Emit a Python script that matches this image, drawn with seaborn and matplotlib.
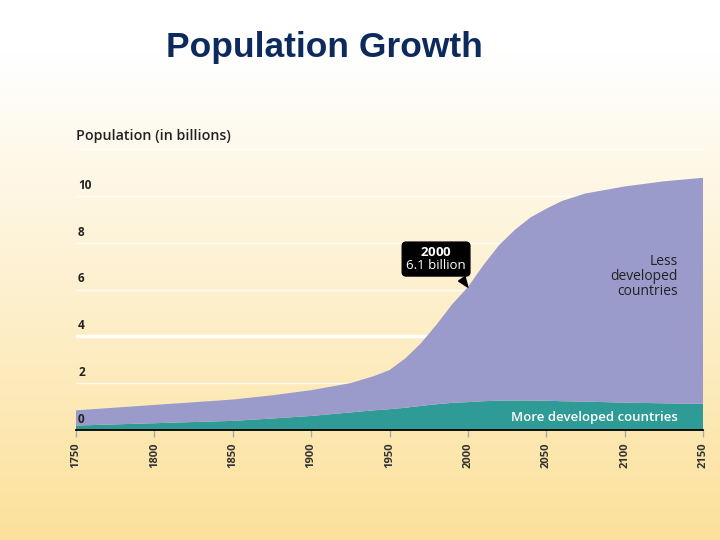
import numpy as np
import matplotlib
matplotlib.use("Agg")
import matplotlib.pyplot as plt
import seaborn as sns

# data (billions)
years = [1750, 1800, 1850, 1875, 1900, 1925, 1940, 1950, 1960, 1970, 1980,
         1990, 2000, 2010, 2020, 2030, 2040, 2050, 2060, 2075, 2100, 2125, 2150]
more_developed = [0.19, 0.29, 0.39, 0.49, 0.60, 0.75, 0.84, 0.89, 0.95, 1.03, 1.10,
                  1.16, 1.19, 1.23, 1.25, 1.26, 1.26, 1.25, 1.23, 1.21, 1.17, 1.14, 1.12]
less_developed = [0.65, 0.78, 0.91, 0.99, 1.10, 1.25, 1.46, 1.67, 2.10, 2.67, 3.40,
                  4.21, 4.91, 5.82, 6.65, 7.29, 7.82, 8.20, 8.55, 8.89, 9.23, 9.48, 9.65]
x_ticks = [1750, 1800, 1850, 1900, 1950, 2000, 2050, 2100, 2150]
y_ticks = [0, 2, 4, 6, 8, 10]
grid_levels = [2, 4, 6, 8, 10, 12]

sns.set_theme(style="white")
plt.rcParams['font.family'] = ['Open Sans', 'DejaVu Sans']
plt.rcParams['mathtext.fontset'] = 'custom'
plt.rcParams['mathtext.bf'] = 'Open Sans:bold'
plt.rcParams['mathtext.rm'] = 'Open Sans'

colors = sns.color_palette(["#2f9b96", "#9a9acb"])

fig = plt.figure(figsize=(7.2, 5.4), dpi=100)

# background gradient white -> pale yellow
bg = fig.add_axes([0, 0, 1, 1])
t = np.clip((np.linspace(0, 1, 540) - 0.1) / 0.9, 0, 1)[:, None]
top = np.array([1.0, 1.0, 1.0])
bottom = np.array([252, 225, 155]) / 255
grad = top + (bottom - top) * t
bg.imshow(np.repeat(grad[:, None, :], 2, axis=1), aspect="auto", extent=[0, 1, 0, 1])
bg.axis("off")

fig.text(324 / 720, 1 - 47 / 540, "Population Growth", ha="center", va="center",
         fontsize=25.5, fontweight="bold", color="#0d2a5e", family="Liberation Sans")

ax = fig.add_axes([76 / 720, 1 - 430 / 540, 627 / 720, 281 / 540])
ax.set_facecolor("none")

for lv in grid_levels:
    if lv == 4:
        ax.axhline(lv, color="white", lw=2.5, zorder=0.5)
    else:
        ax.axhline(lv, color="white", lw=1.0, alpha=0.8, zorder=0.5)

ax.stackplot(years, more_developed, less_developed, colors=colors,
             linewidth=0, edgecolor="none", zorder=2)

ax.set_xlim(1750, 2150)
ax.set_ylim(0, 12)
ax.set_yticks([])
ax.set_xticks(x_ticks)
ax.set_xticklabels([str(y) for y in x_ticks], rotation=90, fontsize=8,
                   fontweight="bold", color="#333333")
ax.tick_params(axis="x", direction="out", length=5, width=1, color="#aaaaaa",
               pad=4, bottom=True)
for s in ["left", "top", "right"]:
    ax.spines[s].set_visible(False)
ax.spines["bottom"].set_color("black")
ax.spines["bottom"].set_linewidth(1.3)
ax.spines["bottom"].set_zorder(3)

ytrans = ax.get_yaxis_transform()
for v in y_ticks:
    ax.annotate(str(v), xy=(0, v), xycoords=ytrans, xytext=(1.5, 3),
                textcoords="offset points", ha="left", va="bottom",
                fontsize=8.5, fontweight="bold", color="#222222", zorder=4)
ax.annotate("Population (in billions)", xy=(0, 12), xycoords=ytrans, xytext=(0, 4),
            textcoords="offset points", ha="left", va="bottom",
            fontsize=10.3, fontweight="semibold", color="#222222")

ax.annotate("$\\bf{2000}$\n6.1 billion", xy=(2000, 6.1), xytext=(1979.7, 7.3),
            ha="center", va="center", color="white", fontsize=9.5, linespacing=1.0,
            bbox=dict(boxstyle="round,pad=0.3,rounding_size=0.3", fc="black", ec="black"),
            arrowprops=dict(arrowstyle="wedge,tail_width=0.6", fc="black", ec="black",
                            relpos=(0.85, 0.0), shrinkB=0), zorder=5)

ax.text(2134, 6.55, "Less\ndeveloped\ncountries", ha="right", va="center",
        fontsize=10, color="#222222", linespacing=1.0, zorder=4)
ax.text(2134, 0.55, "More developed countries", ha="right", va="center",
        fontsize=9.5, fontweight="semibold", color="white", zorder=4)

fig.savefig("out.png", dpi=100)
